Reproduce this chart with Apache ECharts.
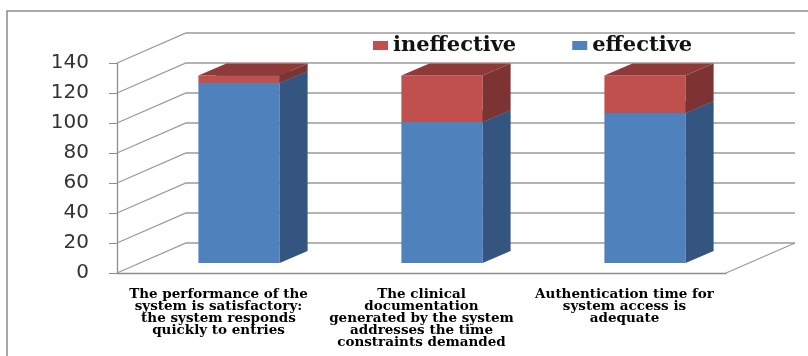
<!DOCTYPE html>
<html lang="en">
<head>
    <meta charset="UTF-8">
    <title>System evaluation</title>
    <script src="https://cdn.jsdelivr.net/npm/echarts@6/dist/echarts.min.js"></script>
    <style>
        html,body{
            margin: 0;
            height: 100%;
            background: #fff;
        }
    </style>
</head>
<body>
<div id="main" style="width: 808px;height: 356px"></div>
<script>
    // data
    var categories = [
        'The performance of the\nsystem is satisfactory:\nthe system responds\nquickly to entries',
        'The clinical\ndocumentation\ngenerated by the system\naddresses the time\nconstraints demanded',
        'Authentication time for\nsystem access is\nadequate'
    ];
    var effective = [120, 94, 100];
    var ineffective = [5, 31, 25];
    var yTicks = [0, 20, 40, 60, 80, 100, 120, 140];

    // fake 3d: wall depth and bar offsets (px)
    var WALL_DX = 69, WALL_DY = -30;
    var BAR_OX = 20.5, BAR_OY = -10;
    var BAR_DX = 28, BAR_DY = -12;

    var myChart = echarts.init(document.getElementById('main'));

    function barRender(front, side, top) {
        return function (params, api) {
            var i = api.value(0);
            var pLo = api.coord([i, api.value(1)]);
            var pHi = api.coord([i, api.value(2)]);
            var bw = api.size([1, 0])[0] * 0.4;
            var xl = pLo[0] + BAR_OX - bw / 2, xr = xl + bw;
            var y0 = pLo[1] + BAR_OY, y1 = pHi[1] + BAR_OY;
            return {
                type: 'group',
                children: [
                    {type: 'rect', shape: {x: xl, y: y1, width: bw, height: y0 - y1}, style: {fill: front}},
                    {type: 'polygon', shape: {points: [[xr, y0], [xr + BAR_DX, y0 + BAR_DY], [xr + BAR_DX, y1 + BAR_DY], [xr, y1]]}, style: {fill: side}},
                    {type: 'polygon', shape: {points: [[xl, y1], [xr, y1], [xr + BAR_DX, y1 + BAR_DY], [xl + BAR_DX, y1 + BAR_DY]]}, style: {fill: top}}
                ]
            };
        };
    }

    function wallRender(params, api) {
        var cs = params.coordSys;
        var y = api.coord([0, api.value(1)])[1];
        var left = cs.x, right = cs.x + cs.width;
        var kids = [{
            type: 'polyline',
            shape: {points: [[left, y], [left + WALL_DX, y + WALL_DY], [right + WALL_DX, y + WALL_DY]]},
            style: {stroke: '#9a9a9a', lineWidth: 1.3, fill: null}
        }];
        if (api.value(1) === 0) {
            kids.push({
                type: 'line',
                shape: {x1: right, y1: y, x2: right + WALL_DX, y2: y + WALL_DY},
                style: {stroke: '#9a9a9a', lineWidth: 1.3}
            });
        }
        return {type: 'group', children: kids};
    }

    var option = {
        animation: false,
        graphic: [{
            type: 'rect',
            shape: {x: 7, y: 11, width: 900, height: 500},
            style: {fill: null, stroke: '#8c8c8c', lineWidth: 1.5},
            silent: true
        }],
        legend: {
            data: ['ineffective', 'effective'],
            left: 368,
            top: 30,
            icon: 'rect',
            itemWidth: 15,
            itemHeight: 9,
            itemGap: 56,
            textStyle: {
                fontFamily: 'DejaVu Serif',
                fontWeight: 'bold',
                fontSize: 21,
                color: '#111'
            }
        },
        grid: {
            left: 117,
            right: 82,
            top: 63,
            bottom: 83
        },
        xAxis: {
            type: 'category',
            data: categories,
            axisLine: {lineStyle: {color: '#8c8c8c', width: 1.3}},
            axisTick: {length: 4, lineStyle: {color: '#8c8c8c'}},
            axisLabel: {
                interval: 0,
                margin: 15,
                fontFamily: 'DejaVu Serif',
                fontWeight: 'bold',
                fontSize: 13.5,
                lineHeight: 12,
                color: '#000'
            }
        },
        yAxis: {
            type: 'value',
            min: 0,
            max: 140,
            interval: 20,
            splitLine: {show: false},
            axisLine: {show: true, lineStyle: {color: '#8c8c8c', width: 1.3}},
            axisTick: {show: true, length: 8, lineStyle: {color: '#8c8c8c'}},
            axisLabel: {
                margin: 28,
                padding: [3, 0, 0, 0],
                fontFamily: 'DejaVu Sans',
                fontSize: 20,
                color: '#333'
            }
        },
        series: [
            {
                name: 'walls',
                type: 'custom',
                silent: true,
                z: 1,
                renderItem: wallRender,
                encode: {x: 0, y: 1},
                data: yTicks.map(function (v) { return [0, v]; })
            },
            {
                name: 'effective',
                type: 'custom',
                z: 3,
                itemStyle: {color: '#4F81BD'},
                renderItem: barRender('#4F81BD', '#34557F', '#3F6797'),
                encode: {x: 0, y: [1, 2]},
                data: effective.map(function (v, i) { return [i, 0, v]; })
            },
            {
                name: 'ineffective',
                type: 'custom',
                z: 4,
                itemStyle: {color: '#C0504D'},
                renderItem: barRender('#C0504D', '#7D3331', '#8F3A38'),
                encode: {x: 0, y: [1, 2]},
                data: ineffective.map(function (v, i) { return [i, effective[i], effective[i] + v]; })
            }
        ]
    };
    myChart.setOption(option);
</script>
</body>
</html>
